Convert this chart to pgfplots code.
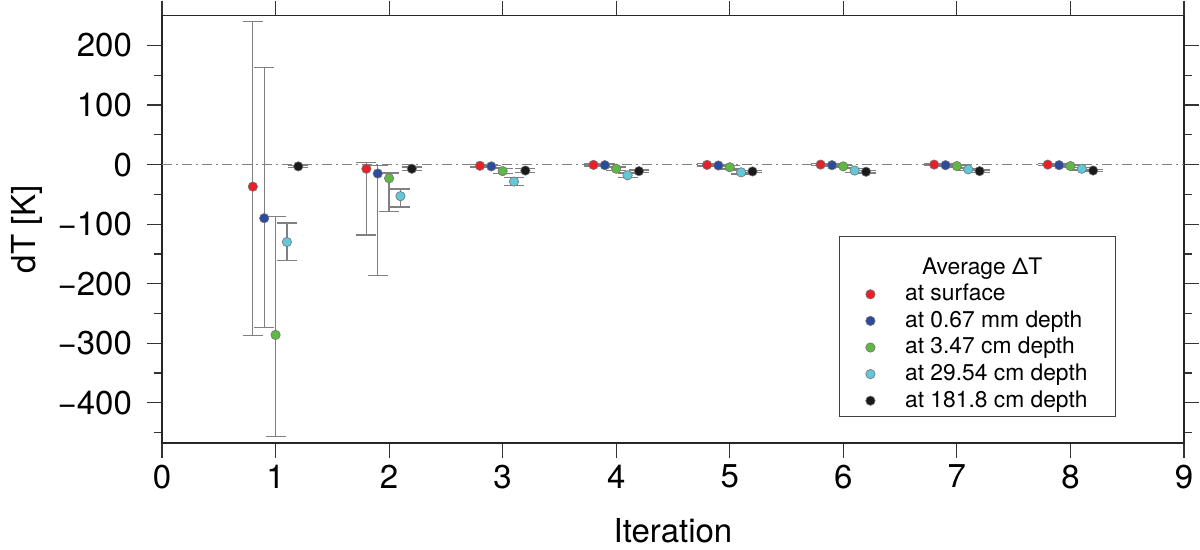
\documentclass[border=0pt]{standalone}
\usepackage{fontspec}
\setmainfont{TeX Gyre Heros}
\usepackage{pgfplots}
\pgfplotsset{compat=1.18}
\usepackage{pgfplotstable}
\usetikzlibrary{calc}

\definecolor{cred}{RGB}{232,32,42}
\definecolor{cblue}{RGB}{44,74,158}
\definecolor{cgreen}{RGB}{96,184,68}
\definecolor{ccyan}{RGB}{98,200,216}
\definecolor{cblack}{RGB}{26,26,26}

% x  y  err+  err-
\pgfplotstableread{
x y ep em
0.8 -37 277 250
1.8 -7 10 111
2.8 -2 2 2
3.8 -0.5 2 2
4.8 -0.5 2 2
5.8 0 2 2
6.8 0 2 2
7.8 0 2 2
}\surf
\pgfplotstableread{
x y ep em
0.9 -90 253 183
1.9 -15 14 171
2.9 -3 2 2
3.9 -1 2 2
4.9 -1.5 2 2
5.9 -1 2 2
6.9 -1 2 2
7.9 -1 2 2
}\dmm
\pgfplotstableread{
x y ep em
1.0 -286 199 170
2.0 -23 9 56
3.0 -11 4 4
4.0 -7 3 3
5.0 -4.5 3 3
6.0 -3 2 2
7.0 -2.5 2 2
8.0 -2.5 2 2
}\dcmA
\pgfplotstableread{
x y ep em
1.1 -130 32 31
2.1 -53 12 18
3.1 -28.5 7 7
4.1 -18 4 4
5.1 -13 3 3
6.1 -10 3 3
7.1 -8 2 2
8.1 -7 2 2
}\dcmB
\pgfplotstableread{
x y ep em
1.2 -3 2 2
2.2 -7 3 3
3.2 -10 3 3
4.2 -11 2 2
5.2 -11.5 2 2
6.2 -12 2 2
7.2 -11 2 2
8.2 -10 2 2
}\dcmC

\pgfplotsset{
  dots/.style={only marks, mark=*, mark size=2.35pt,
    mark options={fill=#1, draw=black!55, line width=0.3pt},
    error bars/.cd, y dir=both, y explicit,
    error bar style={gray, line width=0.65pt},
    error mark options={gray, line width=0.65pt, mark size=5pt, rotate=90}},
}

\begin{document}
\begin{tikzpicture}
\begin{axis}[
  scale only axis, width=511pt, height=213.5pt,
  xmin=0, xmax=9, ymin=-467, ymax=250,
  xtick={0,1,...,9},
  ytick={-400,-300,...,200},
  yticklabels={−400,−300,−200,−100,0,100,200},
  minor ytick={-450,-350,...,150},
  tick align=outside,
  major tick length=7.5pt, minor tick length=4pt,
  every tick/.style={black!80, line width=0.6pt},
  axis line style={black!85, line width=0.8pt},
  /pgf/number format/assume math mode=true,
  ticklabel style={font=\fontsize{16.5}{18}\selectfont},
  yticklabel style={xshift=-4pt},
  label style={font=\fontsize{16.5}{18}\selectfont},
  xlabel={Iteration}, ylabel={dT [K]},
  xlabel style={at={(axis description cs:0.5,-0.205)}, anchor=center},
  ylabel style={at={(axis description cs:-0.1321,0.5)}, anchor=center},
  legend style={at={(0.9335,0.0602)}, anchor=south east,
    draw=black!75, line width=0.6pt,
    font=\fontsize{11.4}{13}\selectfont,
    inner xsep=7pt, inner ysep=1.2pt,
    nodes={text height=8.9pt, text depth=2.6pt, inner ysep=0.9pt},
    /tikz/row 1/.style={nodes={text height=16.5pt}},
    /tikz/every odd column/.style={column sep=13pt}},
  legend cell align=left,
]
\addlegendimage{empty legend}
\addlegendentry{\hspace*{8.5pt}Average ΔT}
\addplot[gray, line width=0.6pt, dash pattern=on 5pt off 2pt on 1pt off 2pt, forget plot]
  coordinates {(0,0) (9,0)};
\addplot[dots=cred] table[x=x, y=y, y error plus=ep, y error minus=em]{\surf};
\addlegendentry{at surface}
\addplot[dots=cblue] table[x=x, y=y, y error plus=ep, y error minus=em]{\dmm};
\addlegendentry{at 0.67 mm depth}
\addplot[dots=cgreen] table[x=x, y=y, y error plus=ep, y error minus=em]{\dcmA};
\addlegendentry{at 3.47 cm depth}
\addplot[dots=ccyan] table[x=x, y=y, y error plus=ep, y error minus=em]{\dcmB};
\addlegendentry{at 29.54 cm depth\hspace*{5pt}}
\addplot[dots=cblack] table[x=x, y=y, y error plus=ep, y error minus=em]{\dcmC};
\addlegendentry{at 181.8 cm depth}
\end{axis}
\pgfresetboundingbox
\path[use as bounding box]
  ($(current axis.south west)+(-81pt,-53.15pt)$) rectangle
  ($(current axis.north east)+(8pt,7.85pt)$);
\end{tikzpicture}
\end{document}
